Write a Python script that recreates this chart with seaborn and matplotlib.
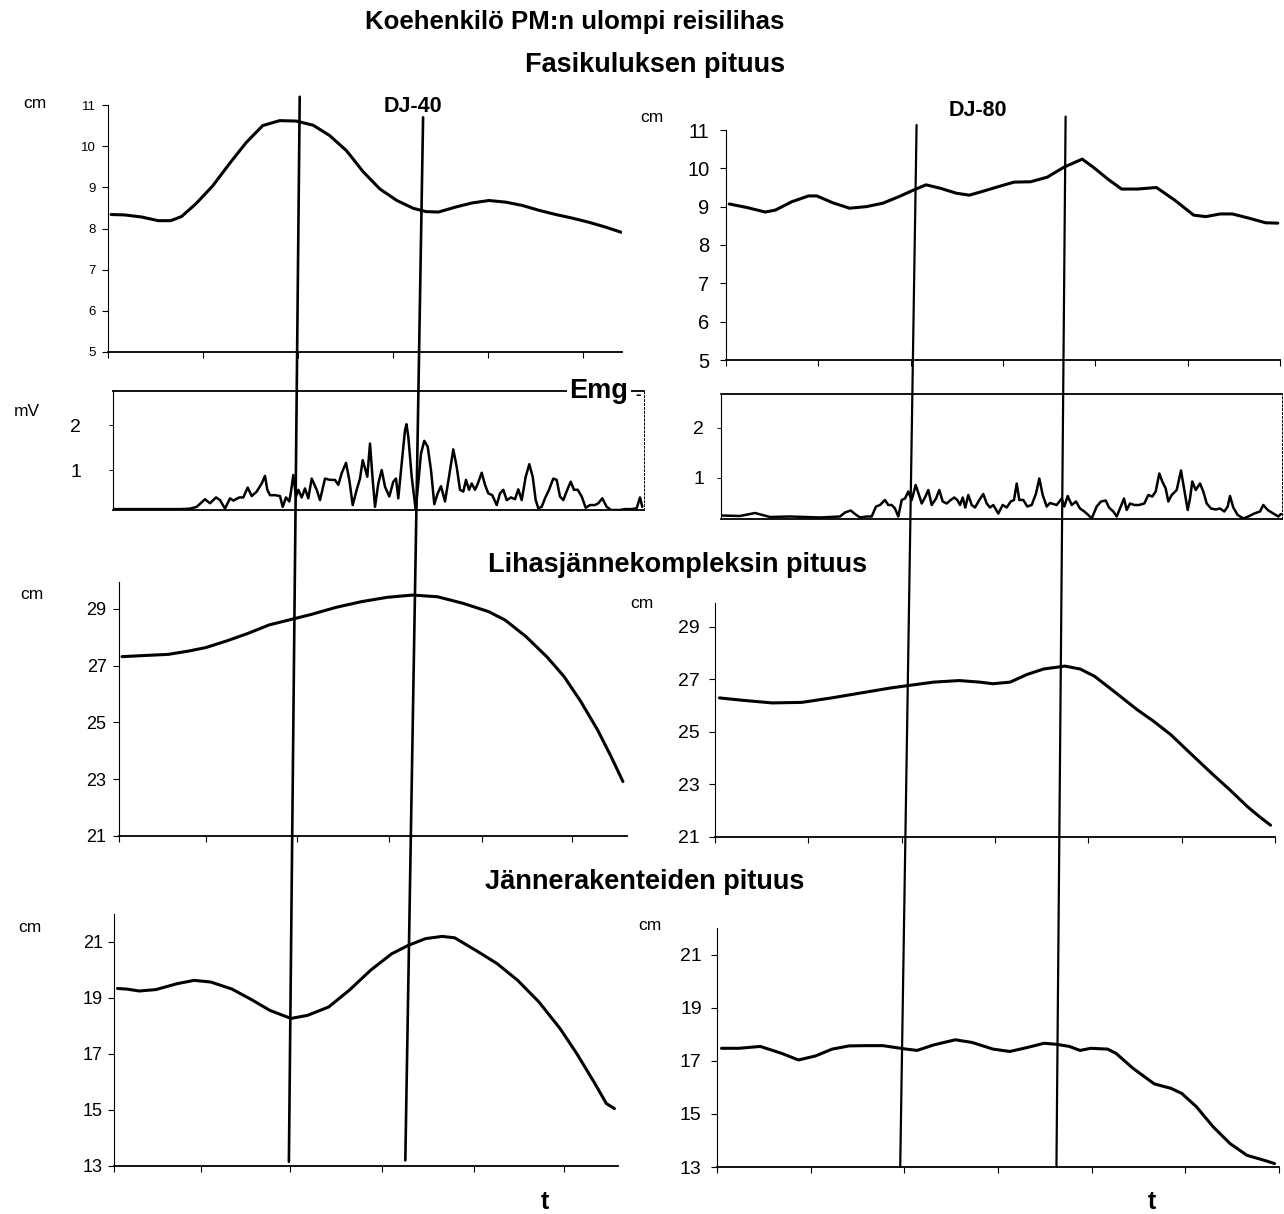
import numpy as np
import pandas as pd
import matplotlib
matplotlib.use("Agg")
import matplotlib.pyplot as plt
from matplotlib.patches import ConnectionPatch
import seaborn as sns

# ---------------- data ----------------
# Fasikuluksen pituus (cm), time normalised 0..1
fas40_t = [0.006, 0.032, 0.065, 0.098, 0.122, 0.143, 0.171, 0.204, 0.236, 0.269, 0.301, 0.334, 0.366,
           0.399, 0.431, 0.464, 0.497, 0.529, 0.562, 0.594, 0.619, 0.643, 0.676, 0.708, 0.741, 0.774,
           0.806, 0.839, 0.871, 0.904, 0.936, 0.969, 0.998]
fas40_v = [8.34, 8.33, 8.28, 8.19, 8.19, 8.29, 8.60, 9.04, 9.57, 10.09, 10.50, 10.62, 10.61,
           10.51, 10.26, 9.89, 9.37, 8.96, 8.68, 8.49, 8.41, 8.40, 8.52, 8.62, 8.68, 8.64,
           8.56, 8.44, 8.34, 8.25, 8.15, 8.03, 7.91]
fas80_t = [0.006, 0.037, 0.071, 0.089, 0.119, 0.149, 0.164, 0.193, 0.223, 0.253, 0.283, 0.312, 0.338,
           0.361, 0.387, 0.416, 0.439, 0.461, 0.491, 0.520, 0.550, 0.580, 0.610, 0.643, 0.662, 0.691,
           0.714, 0.743, 0.777, 0.810, 0.844, 0.866, 0.892, 0.914, 0.944, 0.974, 0.996]
fas80_v = [9.07, 8.98, 8.86, 8.91, 9.13, 9.28, 9.28, 9.10, 8.96, 9.00, 9.09, 9.26, 9.43,
           9.57, 9.48, 9.35, 9.30, 9.39, 9.52, 9.64, 9.65, 9.77, 10.03, 10.24, 10.04, 9.70,
           9.46, 9.46, 9.50, 9.17, 8.78, 8.74, 8.81, 8.81, 8.70, 8.58, 8.57]

# Emg (mV), time in samples
emg40_s = [0, 37, 67, 77, 83.7, 92, 97, 103, 107, 112, 117, 120.3, 126.3, 130.3, 134.7, 138.7, 143.7,
           148.7, 152, 154.3, 157, 162, 167, 169.7, 173, 176.3, 178, 180.3, 183, 185.3, 188.7, 192,
           195.3, 198.7, 203.7, 207, 212, 217, 222, 225.3, 228.7, 233, 236.3, 239.7, 243.7, 247,
           249.7, 252, 254.3, 257, 259.7, 262, 265.3, 268.7, 272, 276.3, 280.3, 283, 285.3, 288.7,
           292, 293.5, 295.3, 298.7, 302.7, 305.3, 308, 311.3, 314.7, 318, 321.3, 324.7, 328, 332,
           336, 340.3, 343.7, 347, 350.3, 353, 356, 358.7, 362, 364.7, 368.7, 372, 375.3, 379.3,
           383.7, 387, 390.3, 393.7, 398, 402, 405.3, 408.7, 412.7, 416.3, 419.7, 422.7, 425.3,
           428.7, 432, 436, 440.3, 443.7, 447, 450.3, 454.3, 457.7, 461, 464.7, 468.7, 472.7, 477,
           482, 485.3, 489.3, 493.7, 498, 502, 507, 512, 518.7, 523.7, 527, 529.3]
emg40_v = [0.13, 0.13, 0.13, 0.14, 0.18, 0.35, 0.26, 0.39, 0.33, 0.14, 0.37, 0.32, 0.39, 0.39, 0.61,
           0.42, 0.52, 0.70, 0.87, 0.56, 0.44, 0.44, 0.42, 0.18, 0.39, 0.30, 0.52, 0.89, 0.41, 0.56,
           0.39, 0.59, 0.37, 0.81, 0.56, 0.33, 0.81, 0.78, 0.78, 0.67, 0.93, 1.16, 0.78, 0.22, 0.56,
           0.81, 1.22, 1.04, 0.85, 1.59, 0.78, 0.18, 0.70, 1.00, 0.63, 0.41, 0.74, 0.81, 0.37, 1.15,
           1.89, 2.02, 1.74, 0.85, 0.11, 0.71, 1.37, 1.65, 1.52, 1.00, 0.24, 0.48, 0.64, 0.30, 0.85,
           1.46, 1.07, 0.56, 0.52, 0.78, 0.56, 0.70, 0.56, 0.69, 0.94, 0.67, 0.48, 0.44, 0.22, 0.48,
           0.56, 0.33, 0.39, 0.35, 0.57, 0.33, 0.85, 1.13, 0.85, 0.33, 0.15, 0.18, 0.37, 0.56, 0.81,
           0.78, 0.41, 0.33, 0.56, 0.74, 0.56, 0.56, 0.41, 0.16, 0.22, 0.22, 0.26, 0.37, 0.18, 0.11,
           0.11, 0.11, 0.13, 0.13, 0.15, 0.39, 0.18]
emg80_s = [0, 19, 34, 49, 69, 84, 99, 119, 124, 129.7, 134, 139, 145.7, 150.7, 155, 159, 164, 167.3,
           170.7, 174, 177.3, 180.7, 184, 187.3, 190.7, 194.7, 198, 200.7, 204, 207.3, 210.7, 215,
           218.3, 221.7, 225.7, 229.7, 233.3, 236.3, 239, 241.7, 244.3, 247.3, 250.7, 254, 258.3,
           262.3, 265.7, 269, 272.3, 277.3, 281.7, 285.7, 289.7, 293, 295.7, 298.3, 302.3, 306.3,
           310.7, 315, 318.3, 321.7, 325.7, 329, 335.7, 340.7, 343.3, 346.7, 350.7, 355, 359, 363.3,
           367.3, 370.7, 375.7, 380, 384.7, 388, 392.3, 395.7, 399, 403, 405.7, 409, 413.3, 418,
           423.3, 427.3, 431.3, 434.7, 438.3, 441.3, 444.7, 447.3, 450.7, 455.7, 460, 463.3, 466.7,
           469, 471.3, 474.7, 479, 482.3, 485.7, 490, 494.7, 499, 503.3, 506.7, 509, 512.3, 516.7,
           522.3, 527.3, 533.3, 539, 542.3, 546.7, 552.3, 557.3, 560]
emg80_v = [0.25, 0.24, 0.30, 0.22, 0.23, 0.22, 0.21, 0.23, 0.31, 0.35, 0.28, 0.21, 0.23, 0.23, 0.43,
           0.46, 0.56, 0.46, 0.46, 0.39, 0.23, 0.56, 0.59, 0.73, 0.56, 0.86, 0.66, 0.49, 0.61, 0.76,
           0.46, 0.59, 0.76, 0.53, 0.49, 0.56, 0.61, 0.56, 0.46, 0.61, 0.41, 0.66, 0.46, 0.41, 0.56,
           0.68, 0.49, 0.41, 0.46, 0.29, 0.46, 0.41, 0.53, 0.56, 0.89, 0.56, 0.56, 0.43, 0.46, 0.69,
           0.99, 0.66, 0.43, 0.50, 0.46, 0.59, 0.43, 0.64, 0.46, 0.53, 0.39, 0.33, 0.26, 0.19, 0.43,
           0.53, 0.55, 0.41, 0.33, 0.23, 0.39, 0.59, 0.36, 0.49, 0.46, 0.46, 0.49, 0.66, 0.63, 0.73,
           1.09, 0.93, 0.79, 0.53, 0.66, 0.76, 1.15, 0.76, 0.36, 0.59, 0.93, 0.76, 0.89, 0.73, 0.49,
           0.39, 0.37, 0.39, 0.33, 0.43, 0.64, 0.41, 0.26, 0.19, 0.23, 0.29, 0.33, 0.46, 0.36, 0.29,
           0.23, 0.28]

# Lihasjännekompleksin pituus (cm)
mtc40_t = [0.006, 0.039, 0.097, 0.138, 0.171, 0.213, 0.254, 0.296, 0.341, 0.379, 0.428, 0.478, 0.528,
           0.578, 0.627, 0.677, 0.727, 0.760, 0.801, 0.843, 0.876, 0.909, 0.942, 0.967, 0.992]
mtc40_v = [27.32, 27.35, 27.40, 27.52, 27.64, 27.88, 28.14, 28.44, 28.64, 28.81, 29.06, 29.26, 29.41,
           29.49, 29.43, 29.20, 28.91, 28.61, 28.03, 27.30, 26.62, 25.74, 24.74, 23.86, 22.92]
mtc80_t = [0.008, 0.049, 0.102, 0.155, 0.208, 0.261, 0.314, 0.345, 0.390, 0.436, 0.473, 0.496, 0.527,
           0.557, 0.587, 0.625, 0.652, 0.678, 0.716, 0.754, 0.784, 0.814, 0.852, 0.890, 0.920, 0.951,
           0.973, 0.992]
mtc80_v = [26.29, 26.20, 26.10, 26.12, 26.29, 26.48, 26.67, 26.76, 26.89, 26.95, 26.89, 26.83, 26.89,
           27.18, 27.39, 27.50, 27.39, 27.11, 26.48, 25.84, 25.39, 24.89, 24.12, 23.36, 22.78, 22.15,
           21.76, 21.45]

# Jännerakenteiden pituus (cm)
ten40_t = [0.007, 0.025, 0.050, 0.083, 0.125, 0.159, 0.192, 0.234, 0.275, 0.309, 0.351, 0.384, 0.426,
           0.467, 0.509, 0.551, 0.584, 0.618, 0.651, 0.676, 0.718, 0.760, 0.801, 0.843, 0.885, 0.918,
           0.952, 0.977, 0.993]
ten40_v = [19.34, 19.32, 19.25, 19.30, 19.51, 19.63, 19.57, 19.32, 18.92, 18.56, 18.27, 18.38, 18.68,
           19.28, 19.99, 20.58, 20.88, 21.12, 21.20, 21.15, 20.70, 20.23, 19.63, 18.86, 17.91, 17.02,
           16.01, 15.23, 15.05]
ten80_t = [0.008, 0.039, 0.077, 0.115, 0.145, 0.175, 0.205, 0.235, 0.265, 0.295, 0.333, 0.356, 0.386,
           0.424, 0.454, 0.491, 0.521, 0.552, 0.582, 0.604, 0.627, 0.646, 0.665, 0.695, 0.710, 0.740,
           0.778, 0.808, 0.827, 0.853, 0.883, 0.913, 0.943, 0.974, 0.992]
ten80_v = [17.47, 17.47, 17.54, 17.28, 17.03, 17.18, 17.44, 17.56, 17.57, 17.57, 17.45, 17.39, 17.60,
           17.79, 17.69, 17.44, 17.35, 17.50, 17.66, 17.62, 17.54, 17.39, 17.47, 17.44, 17.28, 16.72,
           16.13, 15.96, 15.77, 15.27, 14.51, 13.88, 13.44, 13.25, 13.13]

# event markers (time at top panel, value at top; time at bottom panel, value at bottom)
ev40_top_t = [0.373, 0.613]
ev40_top_v = [11.2, 10.7]
ev40_bot_t = [0.347, 0.578]
ev40_bot_v = [13.15, 13.2]
ev80_top_t = [0.344, 0.613]
ev80_top_v = [11.13, 11.35]
ev80_bot_t = [0.326, 0.604]
ev80_bot_v = [13.0, 13.0]

# ---------------- figure ----------------
sns.set_theme(style="white")
plt.rcParams['font.family'] = ['Liberation Sans', 'DejaVu Sans']

W, H = 1284, 1214
fig = plt.figure(figsize=(W / 100, H / 100), dpi=100)


def box(l, r, top, bottom):
    return [l / W, 1 - bottom / H, (r - l) / W, (bottom - top) / H]


def style_len_axes(ax, ylim, yticks, xticks, fs, pad):
    ax.set_xlim(0, 1)
    ax.set_ylim(*ylim)
    ax.set_yticks(yticks)
    ax.set_xticks(xticks)
    ax.set_xticklabels([])
    ax.set_xlabel("")
    ax.set_ylabel("")
    for s in ["top", "right"]:
        ax.spines[s].set_visible(False)
    ax.spines["left"].set_color("black")
    ax.spines["left"].set_linewidth(0.8)
    ax.spines["bottom"].set_color("black")
    ax.spines["bottom"].set_linewidth(1.3)
    ax.tick_params(axis="both", direction="out", length=4, width=0.8, color="black",
                   bottom=True, left=True)
    ax.tick_params(axis="y", labelsize=fs, pad=pad, labelcolor="black")
    ax.set_facecolor("none")
    ax.grid(False)


def style_emg_axes(ax, xlim, ylim, fs, pad):
    ax.set_xlim(*xlim)
    ax.set_ylim(*ylim)
    ax.set_yticks([1, 2])
    ax.set_xticks([])
    ax.set_xlabel("")
    ax.set_ylabel("")
    for s in ["top", "bottom", "left", "right"]:
        ax.spines[s].set_color("black")
        ax.spines[s].set_linewidth(1.3)
    ax.spines["left"].set_linewidth(0.8)
    ax.spines["right"].set_linewidth(0.7)
    ax.spines["right"].set_linestyle((0, (2, 2)))
    ax.tick_params(axis="y", direction="out", length=3, width=0.8, labelsize=fs, pad=pad,
                   left=True, labelcolor="black")
    ax.set_facecolor("none")
    ax.grid(False)


left_ticks1 = [0, 0.185, 0.37, 0.555, 0.74, 0.925]
left_ticks = [0, 0.172, 0.35, 0.532, 0.714, 0.892]
right_ticks = [0, 1 / 6, 2 / 6, 3 / 6, 4 / 6, 5 / 6, 1]

a1L = fig.add_axes(box(108, 622, 105, 352))
a1R = fig.add_axes(box(726, 1280, 130, 360))
eL = fig.add_axes(box(113, 644, 391, 510))
eR = fig.add_axes(box(721, 1282, 394, 519))
a3L = fig.add_axes(box(119, 627, 582, 836))
a3R = fig.add_axes(box(715, 1275, 603, 837))
a4L = fig.add_axes(box(114, 618, 914, 1166))
a4R = fig.add_axes(box(717, 1279, 928, 1167))

LW = 2.2
line_kw = dict(color="black", estimator=None, sort=False, legend=False)

sns.lineplot(data=pd.DataFrame({"t": fas40_t, "v": fas40_v}), x="t", y="v", ax=a1L, lw=LW, **line_kw)
sns.lineplot(data=pd.DataFrame({"t": fas80_t, "v": fas80_v}), x="t", y="v", ax=a1R, lw=LW, **line_kw)
sns.lineplot(data=pd.DataFrame({"t": emg40_s, "v": emg40_v}), x="t", y="v", ax=eL, lw=1.8, **line_kw)
sns.lineplot(data=pd.DataFrame({"t": emg80_s, "v": emg80_v}), x="t", y="v", ax=eR, lw=1.8, **line_kw)
sns.lineplot(data=pd.DataFrame({"t": mtc40_t, "v": mtc40_v}), x="t", y="v", ax=a3L, lw=LW, **line_kw)
sns.lineplot(data=pd.DataFrame({"t": mtc80_t, "v": mtc80_v}), x="t", y="v", ax=a3R, lw=LW, **line_kw)
sns.lineplot(data=pd.DataFrame({"t": ten40_t, "v": ten40_v}), x="t", y="v", ax=a4L, lw=LW, **line_kw)
sns.lineplot(data=pd.DataFrame({"t": ten80_t, "v": ten80_v}), x="t", y="v", ax=a4R, lw=LW, **line_kw)

style_len_axes(a1L, (5, 11), range(5, 12), left_ticks1, 9.5, 5)
style_len_axes(a1R, (5, 11), range(5, 12), right_ticks, 14.5, 8)
style_len_axes(a3L, (21, 29.95), range(21, 30, 2), left_ticks, 13, 5)
style_len_axes(a3R, (21, 29.9), range(21, 30, 2), right_ticks, 14, 7)
style_len_axes(a4L, (13, 22), range(13, 22, 2), left_ticks, 13, 4)
style_len_axes(a4R, (13, 22), range(13, 22, 2), right_ticks, 14, 7)
style_emg_axes(eL, (0, 531), (0.11, 2.76), 14, 20)
style_emg_axes(eR, (0, 561), (0.18, 2.68), 14, 9)

# event lines across the column of panels
for tt, tv, bt, bv in zip(ev40_top_t, ev40_top_v, ev40_bot_t, ev40_bot_v):
    cp = ConnectionPatch(xyA=(tt, tv), coordsA=a1L.transData, xyB=(bt, bv), coordsB=a4L.transData,
                         color="black", lw=1.9, zorder=10)
    fig.add_artist(cp)
for tt, tv, bt, bv in zip(ev80_top_t, ev80_top_v, ev80_bot_t, ev80_bot_v):
    cp = ConnectionPatch(xyA=(tt, tv), coordsA=a1R.transData, xyB=(bt, bv), coordsB=a4R.transData,
                         color="black", lw=1.6, zorder=10)
    fig.add_artist(cp)


def ftext(x, y, s, size, weight="normal", **kw):
    fig.text(x / W, 1 - y / H, s, ha="center", va="center", fontsize=size, fontweight=weight,
             color="black", **kw)


ftext(575, 22, "Koehenkilö PM:n ulompi reisilihas", 18.5, "bold")
ftext(655, 65, "Fasikuluksen pituus", 19.5, "bold")
ftext(413, 107, "DJ-40", 15.5, "bold")
ftext(978, 111, "DJ-80", 15.5, "bold")
ftext(678, 565, "Lihasjännekompleksin pituus", 19.5, "bold")
ftext(645, 882, "Jännerakenteiden pituus", 19.5, "bold")
ftext(599, 391, "Emg", 19.5, "bold",
      bbox=dict(facecolor="white", edgecolor="none", pad=2), zorder=11)
ftext(638, 394, "-", 12, "bold", zorder=12)
ftext(545, 1202, "t", 18, "bold")
ftext(1152, 1202, "t", 18, "bold")

for (x, y) in [(35, 103), (652, 118), (32, 594), (642, 603), (30, 927), (650, 925)]:
    ftext(x, y, "cm", 12.5)
ftext(27, 412, "mV", 12.5)

fig.savefig("out.png", dpi=100, facecolor="white")
